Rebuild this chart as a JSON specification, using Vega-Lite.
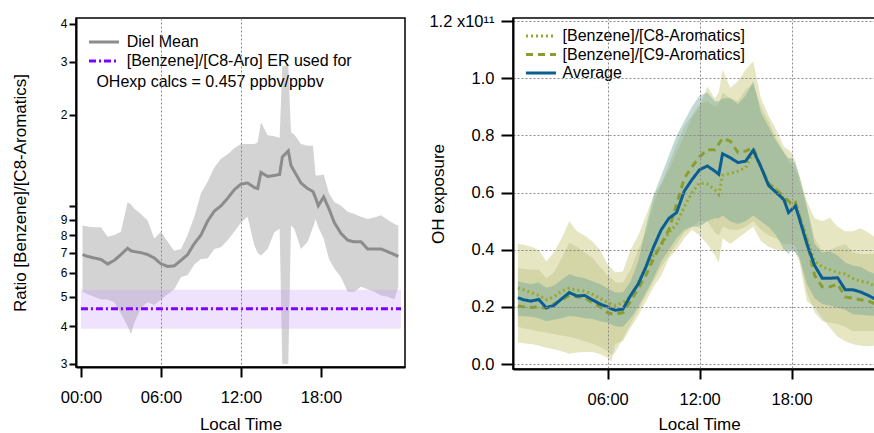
{
  "$schema": "https://vega.github.io/schema/vega-lite/v6.json",
  "background": "white",
  "padding": {"left": 10, "top": 12, "right": 0, "bottom": 0},
  "spacing": 20,
  "resolve": {"scale": {"color": "independent", "strokeDash": "independent"}, "legend": {"color": "independent", "strokeDash": "independent"}},
  "config": {
    "font": "Liberation Sans",
    "view": {"stroke": "black", "strokeWidth": 1.5},
    "axis": {
      "labelFont": "Liberation Sans", "titleFont": "Liberation Sans",
      "labelColor": "black", "titleColor": "black", "titleFontWeight": "normal",
      "domainColor": "black", "tickColor": "black", "domainWidth": 2, "tickWidth": 2,
      "labelFontSize": 16.5, "titleFontSize": 17
    },
    "legend": {"labelFont": "Liberation Sans", "labelColor": "black"}
  },
  "hconcat": [
    {
      "width": 329,
      "height": 349,
      "data": {"values": [
        {"s": "er", "t": 0, "v": 0.457, "lo": 0.392, "hi": 0.528},
        {"s": "er", "t": 24, "v": 0.457, "lo": 0.392, "hi": 0.528},
        {"s": "mean", "t": 0.12, "v": 0.69, "lo": 0.52, "hi": 0.86},
        {"s": "mean", "t": 0.5, "v": 0.68, "lo": 0.51, "hi": 0.855},
        {"s": "mean", "t": 1.0, "v": 0.672, "lo": 0.50, "hi": 0.85},
        {"s": "mean", "t": 1.5, "v": 0.665, "lo": 0.49, "hi": 0.85},
        {"s": "mean", "t": 2.0, "v": 0.642, "lo": 0.49, "hi": 0.79},
        {"s": "mean", "t": 2.5, "v": 0.66, "lo": 0.48, "hi": 0.80},
        {"s": "mean", "t": 3.0, "v": 0.69, "lo": 0.44, "hi": 0.82},
        {"s": "mean", "t": 3.5, "v": 0.724, "lo": 0.40, "hi": 1.03},
        {"s": "mean", "t": 3.75, "v": 0.71, "lo": 0.377, "hi": 1.01},
        {"s": "mean", "t": 4.0, "v": 0.706, "lo": 0.41, "hi": 0.98},
        {"s": "mean", "t": 4.5, "v": 0.70, "lo": 0.46, "hi": 0.94},
        {"s": "mean", "t": 5.0, "v": 0.69, "lo": 0.48, "hi": 0.894},
        {"s": "mean", "t": 5.5, "v": 0.672, "lo": 0.47, "hi": 0.78},
        {"s": "mean", "t": 6.0, "v": 0.643, "lo": 0.49, "hi": 0.82},
        {"s": "mean", "t": 6.5, "v": 0.63, "lo": 0.51, "hi": 0.76},
        {"s": "mean", "t": 7.0, "v": 0.633, "lo": 0.53, "hi": 0.71},
        {"s": "mean", "t": 7.5, "v": 0.66, "lo": 0.58, "hi": 0.72},
        {"s": "mean", "t": 8.0, "v": 0.69, "lo": 0.59, "hi": 0.80},
        {"s": "mean", "t": 8.5, "v": 0.75, "lo": 0.64, "hi": 0.92},
        {"s": "mean", "t": 9.0, "v": 0.80, "lo": 0.667, "hi": 1.10},
        {"s": "mean", "t": 9.5, "v": 0.89, "lo": 0.67, "hi": 1.20},
        {"s": "mean", "t": 10.0, "v": 0.96, "lo": 0.72, "hi": 1.34},
        {"s": "mean", "t": 10.5, "v": 1.0, "lo": 0.73, "hi": 1.43},
        {"s": "mean", "t": 11.0, "v": 1.06, "lo": 0.77, "hi": 1.48},
        {"s": "mean", "t": 11.5, "v": 1.13, "lo": 0.82, "hi": 1.55},
        {"s": "mean", "t": 12.0, "v": 1.18, "lo": 0.88, "hi": 1.60},
        {"s": "mean", "t": 12.5, "v": 1.19, "lo": 0.92, "hi": 1.60},
        {"s": "mean", "t": 13.0, "v": 1.15, "lo": 0.74, "hi": 1.60},
        {"s": "mean", "t": 13.25, "v": 1.14, "lo": 0.70, "hi": 1.62},
        {"s": "mean", "t": 13.5, "v": 1.29, "lo": 0.685, "hi": 1.89},
        {"s": "mean", "t": 14.0, "v": 1.25, "lo": 0.72, "hi": 1.71},
        {"s": "mean", "t": 14.5, "v": 1.26, "lo": 0.818, "hi": 1.70},
        {"s": "mean", "t": 14.9, "v": 1.27, "lo": 0.84, "hi": 1.68},
        {"s": "mean", "t": 15.1, "v": 1.45, "lo": 0.30, "hi": 2.90},
        {"s": "mean", "t": 15.55, "v": 1.52, "lo": 0.30, "hi": 2.90},
        {"s": "mean", "t": 15.75, "v": 1.36, "lo": 0.86, "hi": 1.75},
        {"s": "mean", "t": 16.0, "v": 1.30, "lo": 0.84, "hi": 1.72},
        {"s": "mean", "t": 16.5, "v": 1.19, "lo": 0.72, "hi": 1.60},
        {"s": "mean", "t": 17.0, "v": 1.14, "lo": 0.76, "hi": 1.58},
        {"s": "mean", "t": 17.4, "v": 1.115, "lo": 0.85, "hi": 1.58},
        {"s": "mean", "t": 17.6, "v": 1.06, "lo": 0.905, "hi": 1.26},
        {"s": "mean", "t": 17.8, "v": 1.0, "lo": 0.85, "hi": 1.26},
        {"s": "mean", "t": 18.2, "v": 1.07, "lo": 0.78, "hi": 1.27},
        {"s": "mean", "t": 18.6, "v": 0.977, "lo": 0.667, "hi": 1.10},
        {"s": "mean", "t": 19.0, "v": 0.88, "lo": 0.62, "hi": 1.03},
        {"s": "mean", "t": 19.5, "v": 0.81, "lo": 0.58, "hi": 1.0},
        {"s": "mean", "t": 20.0, "v": 0.77, "lo": 0.52, "hi": 0.955},
        {"s": "mean", "t": 20.5, "v": 0.76, "lo": 0.52, "hi": 0.94},
        {"s": "mean", "t": 21.0, "v": 0.76, "lo": 0.54, "hi": 0.92},
        {"s": "mean", "t": 21.5, "v": 0.72, "lo": 0.53, "hi": 0.905},
        {"s": "mean", "t": 22.0, "v": 0.72, "lo": 0.52, "hi": 0.915},
        {"s": "mean", "t": 22.5, "v": 0.72, "lo": 0.505, "hi": 0.93},
        {"s": "mean", "t": 23.0, "v": 0.705, "lo": 0.50, "hi": 0.90},
        {"s": "mean", "t": 23.5, "v": 0.69, "lo": 0.49, "hi": 0.87},
        {"s": "mean", "t": 23.8, "v": 0.68, "lo": 0.54, "hi": 0.86}
      ]},
      "layer": [
        {
          "transform": [{"filter": "datum.s == 'mean'"}],
          "mark": {"type": "area", "color": "#d3d3d3", "opacity": 1},
          "encoding": {
            "x": {"field": "t", "type": "quantitative",
              "scale": {"domain": [-0.37, 24.3], "nice": false, "zero": false},
              "axis": {
                "values": [0, 6, 12, 18],
                "labelExpr": "(datum.value < 10 ? '0' : '') + datum.value + ':00'",
                "title": "Local Time",
                "grid": true, "gridDash": [2, 2], "gridColor": "#8a8a8a", "gridWidth": 1,
                "gridOpacity": {"condition": {"test": "datum.value == 6 || datum.value == 12", "value": 1}, "value": 0},
                "tickSize": 10, "labelPadding": 12, "titlePadding": 11, "zindex": 1
              }
            },
            "y": {"field": "lo", "type": "quantitative",
              "scale": {"type": "log", "domain": [0.293, 4.18], "nice": false},
              "axis": {
                "values": [0.3, 0.4, 0.5, 0.6, 0.7, 0.8, 0.9, 1, 2, 3, 4],
                "labelExpr": "datum.value >= 1 ? format(datum.value, 'd') : format(datum.value * 10, '.0f')",
                "labelFontSize": {"condition": {"test": "datum.value == 1", "value": 16}, "value": 12},
                "tickSize": 7, "labelPadding": 2, "grid": false,
                "title": "Ratio [Benzene]/[C8-Aromatics]", "titlePadding": 31, "zindex": 1
              }
            },
            "y2": {"field": "hi"}
          }
        },
        {
          "transform": [{"filter": "datum.s == 'er'"}],
          "mark": {"type": "area", "color": "#c8a0f5", "opacity": 0.3},
          "encoding": {
            "x": {"field": "t", "type": "quantitative"},
            "y": {"field": "lo", "type": "quantitative"},
            "y2": {"field": "hi"}
          }
        },
        {
          "mark": {"type": "line", "strokeWidth": 3},
          "encoding": {
            "x": {"field": "t", "type": "quantitative"},
            "y": {"field": "v", "type": "quantitative"},
            "color": {"field": "s", "type": "nominal",
              "scale": {"domain": ["mean", "er"], "range": ["#8c8c8c", "#8000ff"]},
              "legend": {"title": null, "orient": "none", "legendX": 19, "legendY": 15, "padding": 0,
                "labelExpr": "datum.label == 'mean' ? 'Diel Mean' : '[Benzene]/[C8-Aro] ER used for'",
                "symbolType": "M-2,0H2", "symbolSize": 225, "symbolStrokeWidth": 3,
                "labelFontSize": 16, "labelLimit": 400, "labelOffset": 13.7, "rowPadding": 2}
            },
            "strokeDash": {"field": "s", "type": "nominal",
              "scale": {"domain": ["mean", "er"], "range": [[1, 0], [7, 3, 2, 3]]},
              "legend": {"title": null, "orient": "none", "legendX": 19, "legendY": 15, "padding": 0,
                "labelExpr": "datum.label == 'mean' ? 'Diel Mean' : '[Benzene]/[C8-Aro] ER used for'",
                "symbolType": "M-2,0H2", "symbolSize": 225, "symbolStrokeWidth": 3,
                "labelFontSize": 16, "labelLimit": 400, "labelOffset": 13.7, "rowPadding": 2}
            }
          }
        },
        {
          "data": {"values": [{"note": "OHexp calcs = 0.457 ppbv/ppbv"}]},
          "mark": {"type": "text", "align": "left", "baseline": "middle", "fontSize": 16, "font": "Liberation Sans", "color": "black"},
          "encoding": {
            "x": {"datum": 1.16, "type": "quantitative"},
            "y": {"datum": 2.57, "type": "quantitative"},
            "text": {"field": "note"}
          }
        }
      ]
    },
    {
      "width": 362,
      "height": 351,
      "data": {"values": [
        {"t": 0.15, "avg": 0.232, "c8": 0.266, "c9": 0.203, "avlo": 0.168, "avhi": 0.29, "c9lo": 0.13, "c9hi": 0.335, "c8lo": 0.075, "c8hi": 0.42},
        {"t": 0.5, "avg": 0.225, "c8": 0.26, "c9": 0.20, "avlo": 0.167, "avhi": 0.285, "c9lo": 0.125, "c9hi": 0.333, "c8lo": 0.073, "c8hi": 0.418},
        {"t": 1.0, "avg": 0.22, "c8": 0.25, "c9": 0.198, "avlo": 0.165, "avhi": 0.28, "c9lo": 0.12, "c9hi": 0.33, "c8lo": 0.07, "c8hi": 0.41},
        {"t": 1.5, "avg": 0.226, "c8": 0.24, "c9": 0.20, "avlo": 0.16, "avhi": 0.285, "c9lo": 0.115, "c9hi": 0.33, "c8lo": 0.065, "c8hi": 0.40},
        {"t": 2.0, "avg": 0.197, "c8": 0.225, "c9": 0.195, "avlo": 0.15, "avhi": 0.267, "c9lo": 0.11, "c9hi": 0.30, "c8lo": 0.057, "c8hi": 0.36},
        {"t": 2.5, "avg": 0.205, "c8": 0.235, "c9": 0.21, "avlo": 0.155, "avhi": 0.275, "c9lo": 0.105, "c9hi": 0.32, "c8lo": 0.052, "c8hi": 0.39},
        {"t": 3.0, "avg": 0.228, "c8": 0.255, "c9": 0.225, "avlo": 0.16, "avhi": 0.295, "c9lo": 0.10, "c9hi": 0.37, "c8lo": 0.045, "c8hi": 0.44},
        {"t": 3.5, "avg": 0.25, "c8": 0.265, "c9": 0.24, "avlo": 0.168, "avhi": 0.314, "c9lo": 0.095, "c9hi": 0.424, "c8lo": 0.036, "c8hi": 0.50},
        {"t": 4.0, "avg": 0.238, "c8": 0.258, "c9": 0.235, "avlo": 0.165, "avhi": 0.305, "c9lo": 0.088, "c9hi": 0.41, "c8lo": 0.04, "c8hi": 0.465},
        {"t": 4.5, "avg": 0.24, "c8": 0.255, "c9": 0.232, "avlo": 0.16, "avhi": 0.30, "c9lo": 0.08, "c9hi": 0.39, "c8lo": 0.042, "c8hi": 0.45},
        {"t": 5.0, "avg": 0.225, "c8": 0.245, "c9": 0.215, "avlo": 0.158, "avhi": 0.29, "c9lo": 0.072, "c9hi": 0.372, "c8lo": 0.042, "c8hi": 0.43},
        {"t": 5.5, "avg": 0.21, "c8": 0.23, "c9": 0.20, "avlo": 0.15, "avhi": 0.28, "c9lo": 0.06, "c9hi": 0.34, "c8lo": 0.035, "c8hi": 0.40},
        {"t": 6.0, "avg": 0.20, "c8": 0.215, "c9": 0.18, "avlo": 0.145, "avhi": 0.265, "c9lo": 0.045, "c9hi": 0.31, "c8lo": 0.022, "c8hi": 0.349},
        {"t": 6.25, "avg": 0.193, "c8": 0.21, "c9": 0.176, "avlo": 0.138, "avhi": 0.258, "c9lo": 0.03, "c9hi": 0.30, "c8lo": 0.008, "c8hi": 0.335},
        {"t": 6.5, "avg": 0.188, "c8": 0.205, "c9": 0.174, "avlo": 0.132, "avhi": 0.25, "c9lo": 0.04, "c9hi": 0.285, "c8lo": 0.07, "c8hi": 0.32},
        {"t": 7.0, "avg": 0.192, "c8": 0.215, "c9": 0.18, "avlo": 0.13, "avhi": 0.25, "c9lo": 0.09, "c9hi": 0.285, "c8lo": 0.08, "c8hi": 0.325},
        {"t": 7.5, "avg": 0.24, "c8": 0.235, "c9": 0.22, "avlo": 0.16, "avhi": 0.29, "c9lo": 0.14, "c9hi": 0.33, "c8lo": 0.127, "c8hi": 0.40},
        {"t": 8.0, "avg": 0.28, "c8": 0.285, "c9": 0.265, "avlo": 0.20, "avhi": 0.36, "c9lo": 0.19, "c9hi": 0.40, "c8lo": 0.17, "c8hi": 0.45},
        {"t": 8.5, "avg": 0.34, "c8": 0.34, "c9": 0.31, "avlo": 0.25, "avhi": 0.48, "c9lo": 0.24, "c9hi": 0.46, "c8lo": 0.22, "c8hi": 0.52},
        {"t": 9.0, "avg": 0.41, "c8": 0.38, "c9": 0.37, "avlo": 0.30, "avhi": 0.59, "c9lo": 0.29, "c9hi": 0.56, "c8lo": 0.27, "c8hi": 0.59},
        {"t": 9.5, "avg": 0.47, "c8": 0.415, "c9": 0.42, "avlo": 0.36, "avhi": 0.66, "c9lo": 0.34, "c9hi": 0.63, "c8lo": 0.31, "c8hi": 0.63},
        {"t": 10.0, "avg": 0.51, "c8": 0.46, "c9": 0.47, "avlo": 0.40, "avhi": 0.73, "c9lo": 0.38, "c9hi": 0.70, "c8lo": 0.37, "c8hi": 0.68},
        {"t": 10.5, "avg": 0.53, "c8": 0.49, "c9": 0.56, "avlo": 0.44, "avhi": 0.80, "c9lo": 0.42, "c9hi": 0.77, "c8lo": 0.40, "c8hi": 0.74},
        {"t": 11.0, "avg": 0.605, "c8": 0.55, "c9": 0.65, "avlo": 0.47, "avhi": 0.85, "c9lo": 0.46, "c9hi": 0.83, "c8lo": 0.44, "c8hi": 0.80},
        {"t": 11.5, "avg": 0.645, "c8": 0.60, "c9": 0.69, "avlo": 0.48, "avhi": 0.90, "c9lo": 0.48, "c9hi": 0.87, "c8lo": 0.47, "c8hi": 0.86},
        {"t": 12.0, "avg": 0.68, "c8": 0.634, "c9": 0.725, "avlo": 0.48, "avhi": 0.94, "c9lo": 0.50, "c9hi": 0.91, "c8lo": 0.45, "c8hi": 0.90},
        {"t": 12.5, "avg": 0.693, "c8": 0.63, "c9": 0.75, "avlo": 0.50, "avhi": 0.95, "c9lo": 0.50, "c9hi": 0.92, "c8lo": 0.42, "c8hi": 0.97},
        {"t": 13.0, "avg": 0.675, "c8": 0.61, "c9": 0.75, "avlo": 0.51, "avhi": 0.92, "c9lo": 0.46, "c9hi": 0.90, "c8lo": 0.38, "c8hi": 0.93},
        {"t": 13.25, "avg": 0.664, "c8": 0.594, "c9": 0.77, "avlo": 0.51, "avhi": 0.92, "c9lo": 0.45, "c9hi": 0.91, "c8lo": 0.354, "c8hi": 0.95},
        {"t": 13.5, "avg": 0.736, "c8": 0.66, "c9": 0.79, "avlo": 0.52, "avhi": 0.93, "c9lo": 0.48, "c9hi": 0.95, "c8lo": 0.44, "c8hi": 1.03},
        {"t": 14.0, "avg": 0.722, "c8": 0.667, "c9": 0.78, "avlo": 0.50, "avhi": 0.93, "c9lo": 0.47, "c9hi": 0.93, "c8lo": 0.42, "c8hi": 0.967},
        {"t": 14.5, "avg": 0.705, "c8": 0.675, "c9": 0.74, "avlo": 0.49, "avhi": 0.91, "c9lo": 0.47, "c9hi": 0.92, "c8lo": 0.44, "c8hi": 0.99},
        {"t": 15.0, "avg": 0.71, "c8": 0.687, "c9": 0.745, "avlo": 0.50, "avhi": 0.94, "c9lo": 0.48, "c9hi": 0.96, "c8lo": 0.46, "c8hi": 1.03},
        {"t": 15.5, "avg": 0.748, "c8": 0.74, "c9": 0.757, "avlo": 0.52, "avhi": 0.99, "c9lo": 0.50, "c9hi": 0.98, "c8lo": 0.48, "c8hi": 1.06},
        {"t": 16.0, "avg": 0.69, "c8": 0.69, "c9": 0.69, "avlo": 0.50, "avhi": 0.88, "c9lo": 0.47, "c9hi": 0.90, "c8lo": 0.43, "c8hi": 0.93},
        {"t": 16.5, "avg": 0.625, "c8": 0.63, "c9": 0.632, "avlo": 0.48, "avhi": 0.83, "c9lo": 0.45, "c9hi": 0.85, "c8lo": 0.41, "c8hi": 0.87},
        {"t": 17.0, "avg": 0.60, "c8": 0.61, "c9": 0.61, "avlo": 0.45, "avhi": 0.78, "c9lo": 0.44, "c9hi": 0.79, "c8lo": 0.40, "c8hi": 0.82},
        {"t": 17.5, "avg": 0.575, "c8": 0.58, "c9": 0.585, "avlo": 0.40, "avhi": 0.74, "c9lo": 0.42, "c9hi": 0.74, "c8lo": 0.395, "c8hi": 0.76},
        {"t": 17.8, "avg": 0.53, "c8": 0.565, "c9": 0.57, "avlo": 0.385, "avhi": 0.72, "c9lo": 0.42, "c9hi": 0.71, "c8lo": 0.40, "c8hi": 0.75},
        {"t": 18.0, "avg": 0.54, "c8": 0.56, "c9": 0.56, "avlo": 0.40, "avhi": 0.72, "c9lo": 0.42, "c9hi": 0.70, "c8lo": 0.40, "c8hi": 0.74},
        {"t": 18.25, "avg": 0.553, "c8": 0.565, "c9": 0.565, "avlo": 0.39, "avhi": 0.70, "c9lo": 0.41, "c9hi": 0.68, "c8lo": 0.39, "c8hi": 0.71},
        {"t": 18.5, "avg": 0.51, "c8": 0.52, "c9": 0.52, "avlo": 0.37, "avhi": 0.66, "c9lo": 0.38, "c9hi": 0.64, "c8lo": 0.36, "c8hi": 0.66},
        {"t": 19.0, "avg": 0.42, "c8": 0.44, "c9": 0.43, "avlo": 0.28, "avhi": 0.55, "c9lo": 0.25, "c9hi": 0.55, "c8lo": 0.22, "c8hi": 0.57},
        {"t": 19.5, "avg": 0.345, "c8": 0.36, "c9": 0.31, "avlo": 0.23, "avhi": 0.42, "c9lo": 0.18, "c9hi": 0.44, "c8lo": 0.20, "c8hi": 0.51},
        {"t": 20.0, "avg": 0.30, "c8": 0.34, "c9": 0.27, "avlo": 0.21, "avhi": 0.39, "c9lo": 0.15, "c9hi": 0.395, "c8lo": 0.16, "c8hi": 0.50},
        {"t": 20.5, "avg": 0.30, "c8": 0.33, "c9": 0.27, "avlo": 0.205, "avhi": 0.395, "c9lo": 0.145, "c9hi": 0.40, "c8lo": 0.127, "c8hi": 0.512},
        {"t": 21.0, "avg": 0.302, "c8": 0.32, "c9": 0.28, "avlo": 0.197, "avhi": 0.38, "c9lo": 0.14, "c9hi": 0.41, "c8lo": 0.095, "c8hi": 0.48},
        {"t": 21.5, "avg": 0.26, "c8": 0.315, "c9": 0.235, "avlo": 0.19, "avhi": 0.355, "c9lo": 0.13, "c9hi": 0.42, "c8lo": 0.08, "c8hi": 0.465},
        {"t": 22.0, "avg": 0.26, "c8": 0.30, "c9": 0.23, "avlo": 0.174, "avhi": 0.345, "c9lo": 0.115, "c9hi": 0.39, "c8lo": 0.069, "c8hi": 0.465},
        {"t": 22.5, "avg": 0.252, "c8": 0.29, "c9": 0.225, "avlo": 0.172, "avhi": 0.34, "c9lo": 0.115, "c9hi": 0.385, "c8lo": 0.064, "c8hi": 0.475},
        {"t": 23.0, "avg": 0.24, "c8": 0.285, "c9": 0.22, "avlo": 0.17, "avhi": 0.325, "c9lo": 0.115, "c9hi": 0.385, "c8lo": 0.062, "c8hi": 0.46},
        {"t": 23.5, "avg": 0.226, "c8": 0.27, "c9": 0.21, "avlo": 0.168, "avhi": 0.314, "c9lo": 0.115, "c9hi": 0.385, "c8lo": 0.065, "c8hi": 0.442},
        {"t": 23.9, "avg": 0.22, "c8": 0.265, "c9": 0.205, "avlo": 0.165, "avhi": 0.31, "c9lo": 0.115, "c9hi": 0.38, "c8lo": 0.065, "c8hi": 0.44}
      ]},
      "layer": [
        {
          "mark": {"type": "area", "color": "#b8b854", "opacity": 0.35, "clip": true},
          "encoding": {
            "x": {"field": "t", "type": "quantitative",
              "scale": {"domain": [-0.17, 23.44], "nice": false, "zero": false},
              "axis": {
                "values": [6, 12, 18],
                "labelExpr": "(datum.value < 10 ? '0' : '') + datum.value + ':00'",
                "title": "Local Time",
                "grid": true, "gridDash": [2, 2], "gridColor": "#8a8a8a", "gridWidth": 1,
                "tickSize": 10, "labelPadding": 12, "titlePadding": 12, "zindex": 1,
                "titleX": 186, "titleY": 47
              }
            },
            "y": {"field": "c8lo", "type": "quantitative",
              "scale": {"domain": [-0.0175, 1.211], "nice": false, "zero": false},
              "axis": {
                "values": [0, 0.2, 0.4, 0.6, 0.8, 1.0, 1.2],
                "labelExpr": "datum.value == 1.2 ? '1.2 x10¹¹' : format(datum.value, '.1f')",
                "grid": true, "gridDash": [2, 2], "gridColor": "#8a8a8a", "gridWidth": 1,
                "tickSize": 12, "labelPadding": 7, "zindex": 1,
                "title": "OH exposure", "titleX": -66
              }
            },
            "y2": {"field": "c8hi"}
          }
        },
        {
          "mark": {"type": "area", "color": "#b3b876", "opacity": 0.35, "clip": true},
          "encoding": {
            "x": {"field": "t", "type": "quantitative"},
            "y": {"field": "c9lo", "type": "quantitative"},
            "y2": {"field": "c9hi"}
          }
        },
        {
          "mark": {"type": "area", "color": "#669f94", "opacity": 0.4, "clip": true},
          "encoding": {
            "x": {"field": "t", "type": "quantitative"},
            "y": {"field": "avlo", "type": "quantitative"},
            "y2": {"field": "avhi"}
          }
        },
        {
          "transform": [{"fold": ["c8", "c9", "avg"], "as": ["series", "val"]}],
          "mark": {"type": "line", "strokeWidth": 3, "clip": true},
          "encoding": {
            "x": {"field": "t", "type": "quantitative"},
            "y": {"field": "val", "type": "quantitative"},
            "color": {"field": "series", "type": "nominal",
              "scale": {"domain": ["c8", "c9", "avg"], "range": ["#99a82a", "#8a9e30", "#0b5e92"]},
              "legend": {"title": null, "orient": "none", "legendX": 19, "legendY": 9, "padding": 0,
                "labelExpr": "datum.label == 'c8' ? '[Benzene]/[C8-Aromatics]' : (datum.label == 'c9' ? '[Benzene]/[C9-Aromatics]' : 'Average')",
                "symbolType": "M-2,0H2", "symbolSize": 225, "symbolStrokeWidth": 3,
                "labelFontSize": 16, "labelLimit": 400, "labelOffset": 12.6, "rowPadding": 1.5}
            },
            "strokeDash": {"field": "series", "type": "nominal",
              "scale": {"domain": ["c8", "c9", "avg"], "range": [[2, 3], [7, 5], [1, 0]]},
              "legend": {"title": null, "orient": "none", "legendX": 19, "legendY": 9, "padding": 0,
                "labelExpr": "datum.label == 'c8' ? '[Benzene]/[C8-Aromatics]' : (datum.label == 'c9' ? '[Benzene]/[C9-Aromatics]' : 'Average')",
                "symbolType": "M-2,0H2", "symbolSize": 225, "symbolStrokeWidth": 3,
                "labelFontSize": 16, "labelLimit": 400, "labelOffset": 12.6, "rowPadding": 1.5}
            }
          }
        }
      ]
    }
  ]
}
